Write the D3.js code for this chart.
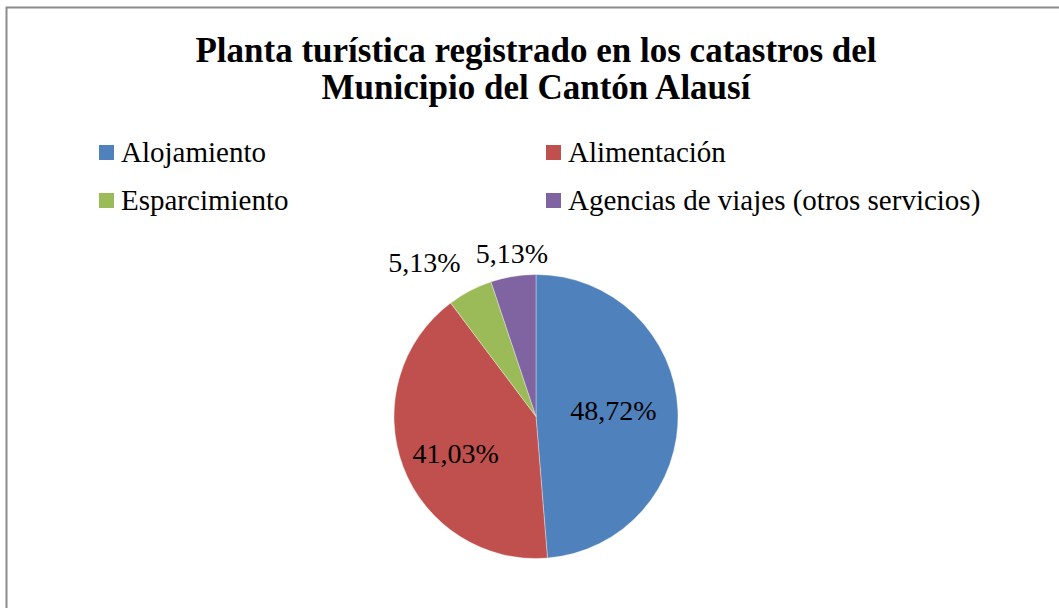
<!DOCTYPE html>
<html>
<head>
<meta charset="utf-8">
<script src="https://cdn.jsdelivr.net/npm/d3@7"></script>
<style>
  html, body { margin: 0; padding: 0; background: #fff; }
  svg { display: block; }
  text { font-family: "Liberation Serif", serif; }
</style>
</head>
<body>
<svg id="chart" width="1059" height="608"></svg>
<script>
const titleLines = ["Planta turística registrado en los catastros del", "Municipio del Cantón Alausí"];
const categories = ["Alojamiento", "Alimentación", "Esparcimiento", "Agencias de viajes (otros servicios)"];
const values = [48.72, 41.03, 5.13, 5.13];
const valueLabels = ["48,72%", "41,03%", "5,13%", "5,13%"];
const colors = ["#4F81BD", "#C0504D", "#9BBB59", "#8064A2"];

const svg = d3.select("#chart");
const W = 1059, H = 608;

// outer border
svg.append("rect")
  .attr("x", 6.5).attr("y", 7.5)
  .attr("width", W + 20).attr("height", H + 20)
  .attr("fill", "#fff").attr("stroke", "#8c8c8c").attr("stroke-width", 2);

// title
const title = svg.append("text")
  .attr("text-anchor", "middle")
  .style("font-weight", "bold")
  .style("font-size", "35px")
  .attr("fill", "#000");
titleLines.forEach((t, i) => {
  title.append("tspan").attr("x", 536).attr("y", 62 + i * 37).text(t);
});

// legend
const legendX = [99, 546];
const legendY = [145, 193];
const legend = svg.append("g");
categories.forEach((c, i) => {
  const col = i % 2, row = Math.floor(i / 2);
  const g = legend.append("g").attr("transform", `translate(${legendX[col]},${legendY[row]})`);
  g.append("rect").attr("width", 15).attr("height", 15).attr("fill", colors[i]);
  g.append("text")
    .attr("x", 22).attr("y", 17)
    .style("font-size", "29px").attr("fill", "#000")
    .text(c);
});

// pie
const cx = 536, cy = 416.5, r = 142;
const pie = d3.pie().sort(null).value(d => d);
const arcs = pie(values);
const arc = d3.arc().innerRadius(0).outerRadius(r);
const g = svg.append("g").attr("transform", `translate(${cx},${cy})`);
g.selectAll("path.slice")
  .data(arcs)
  .join("path")
  .attr("class", "slice")
  .attr("d", arc)
  .attr("fill", (d, i) => colors[i])
  .attr("stroke", "#ffffff")
  .attr("stroke-width", 0.6)
  .attr("stroke-opacity", 0.6);

// labels: inside for big slices, outside for small
const inArc = d3.arc().innerRadius(r * 0.56).outerRadius(r * 0.56);
const outArc = d3.arc().innerRadius(r + 14).outerRadius(r + 14);
// nudges to resolve overlap (Excel-style)
const labelNudge = [[-2, -3], [-6, 9], [-39, -6], [1, 0.5]];
arcs.forEach((d, i) => {
  const outside = values[i] < 10;
  const c = outside ? outArc.centroid(d) : inArc.centroid(d);
  g.append("text")
    .attr("x", c[0] + labelNudge[i][0])
    .attr("y", c[1] + labelNudge[i][1])
    .attr("text-anchor", "middle")
    .attr("dominant-baseline", outside ? "auto" : "central")
    .style("font-size", "28px").attr("fill", "#000")
    .text(valueLabels[i]);
});
</script>
</body>
</html>
